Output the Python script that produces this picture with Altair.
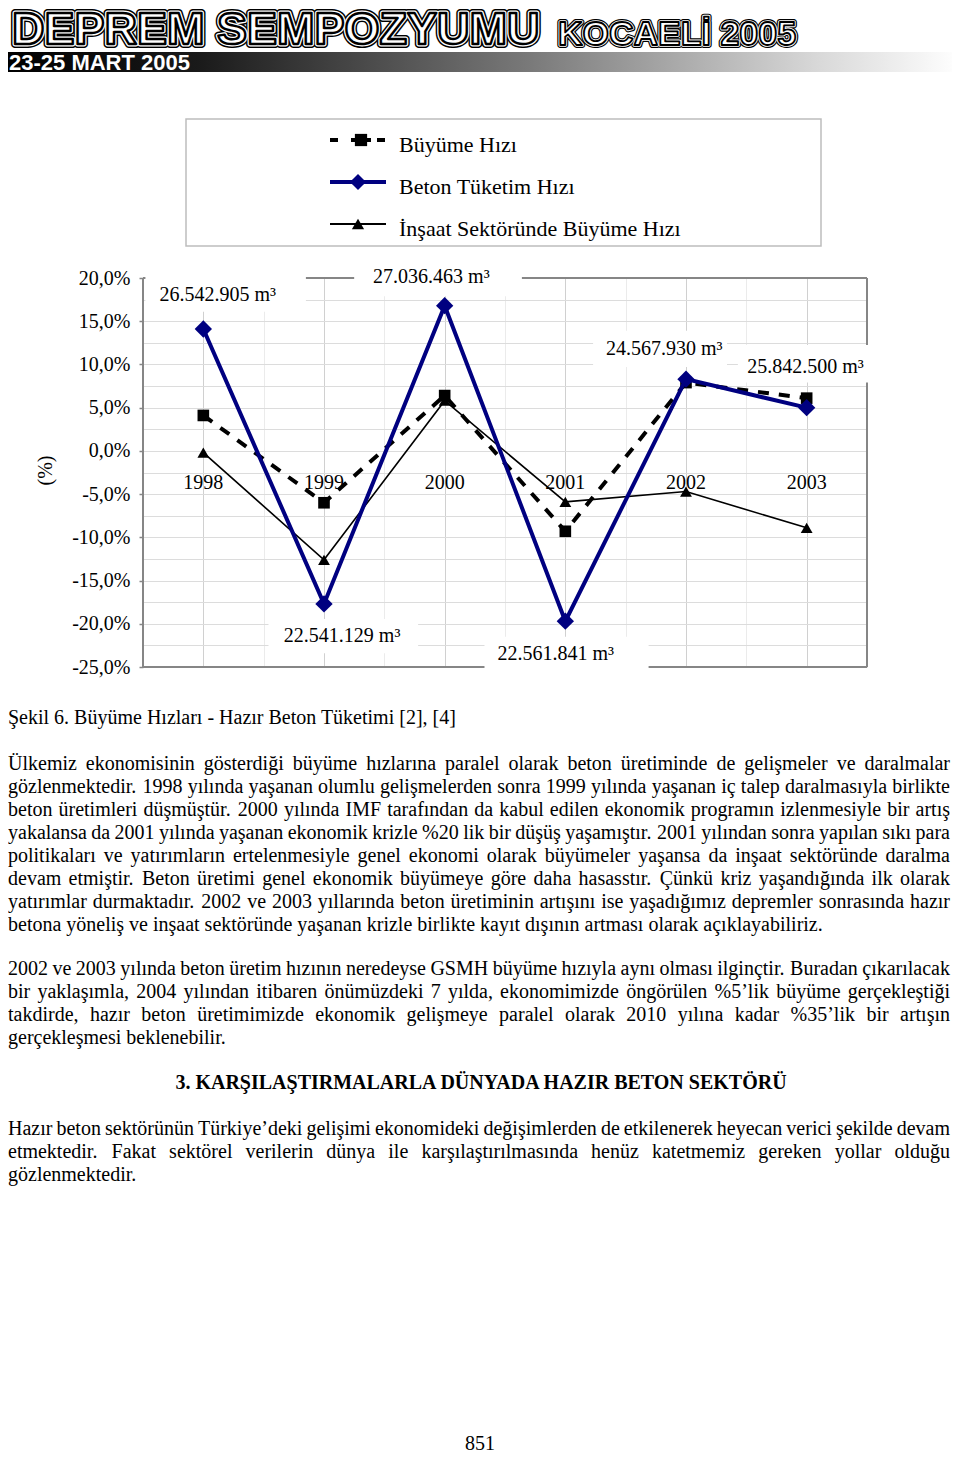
import glob
import struct

import altair as alt
import numpy as np
import pandas as pd

# ---------------- chart data ----------------
years = [1998, 1999, 2000, 2001, 2002, 2003]
buyume_hizi = [4.1, -6.0, 6.4, -9.3, 7.9, 6.1]            # dashed, squares
beton_tuketim = [14.1, -17.7, 16.8, -19.7, 8.3, 5.0]      # navy, diamonds
insaat_buyume = [-0.2, -12.6, 5.8, -5.9, -4.7, -8.9]      # thin black, triangles
series_labels = ["Büyüme Hızı", "Beton Tüketim Hızı", "İnşaat Sektöründe Büyüme Hızı"]
year_labels = [str(y) for y in years]

volume_labels = ["26.542.905 m³", "27.036.463 m³", "24.567.930 m³",
                 "25.842.500 m³", "22.541.129 m³", "22.561.841 m³"]
# anchor of each volume label in axis units (year, %)
volume_x = [1998.12, 1999.89, 2001.82, 2002.99, 1999.15, 2000.92]
volume_y = [18.0, 20.1, 11.8, 9.7, -21.4, -23.5]
# white boxes behind the volume labels (axis units)
box_x1 = [1997.52, 1999.25, 2001.23, 2002.43, 1998.54, 2000.33]
box_x2 = [1998.85, 2000.64, 2002.34, 2003.52, 1999.78, 2001.69]
box_y1 = [20.2, 22.1, 13.9, 12.25, -19.45, -21.5]
box_y2 = [16.1, 17.9, 9.7, 7.9, -23.4, -25.6]

# ---------------- page text ----------------
header_title = "DEPREM SEMPOZYUMU"
header_city = "KOCAELİ 2005"
header_dates = "23-25 MART 2005"
caption = "Şekil 6. Büyüme Hızları - Hazır Beton Tüketimi [2], [4]"
para1 = [
    "Ülkemiz ekonomisinin gösterdiği büyüme hızlarına paralel olarak beton üretiminde de gelişmeler ve daralmalar",
    "gözlenmektedir. 1998 yılında yaşanan olumlu gelişmelerden sonra 1999 yılında yaşanan iç talep daralmasıyla birlikte",
    "beton üretimleri düşmüştür. 2000 yılında IMF tarafından da kabul edilen ekonomik programın izlenmesiyle bir artış",
    "yakalansa da 2001 yılında yaşanan ekonomik krizle %20 lik bir düşüş yaşamıştır. 2001 yılından sonra yapılan sıkı para",
    "politikaları ve yatırımların ertelenmesiyle genel ekonomi olarak büyümeler yaşansa da inşaat sektöründe daralma",
    "devam etmiştir. Beton üretimi genel ekonomik büyümeye göre daha hasasstır. Çünkü kriz yaşandığında ilk olarak",
    "yatırımlar durmaktadır. 2002 ve 2003 yıllarında beton üretiminin artışını ise yaşadığımız depremler sonrasında hazır",
    "betona yöneliş ve inşaat sektöründe yaşanan krizle birlikte kayıt dışının artması olarak açıklayabiliriz.",
]
para2 = [
    "2002 ve 2003 yılında beton üretim hızının neredeyse GSMH büyüme hızıyla aynı olması ilginçtir. Buradan çıkarılacak",
    "bir yaklaşımla, 2004 yılından itibaren önümüzdeki 7 yılda, ekonomimizde öngörülen %5’lik büyüme gerçekleştiği",
    "takdirde, hazır beton üretimimizde ekonomik gelişmeye paralel olarak 2010 yılına kadar %35’lik bir artışın",
    "gerçekleşmesi beklenebilir.",
]
heading = "3. KARŞILAŞTIRMALARLA DÜNYADA HAZIR BETON SEKTÖRÜ"
para3 = [
    "Hazır beton sektörünün Türkiye’deki gelişimi ekonomideki değişimlerden de etkilenerek heyecan verici şekilde devam",
    "etmektedir. Fakat sektörel verilerin dünya ile karşılaştırılmasında henüz katetmemiz gereken yollar olduğu",
    "gözlenmektedir.",
]
page_number = "851"

# ---------------- layout ----------------
W, H = 724, 389          # plot area
OX, OY = 143, 278        # page position of the plot origin
SERIF = "Liberation Serif"
SANS = "Liberation Sans"
NAVY = "#000080"
BORDER = "#868686"


def px(x):
    return x - OX


def py(y):
    return y - OY


# ---- font metrics for justified paragraphs ----
def load_width_fn(fname):
    try:
        paths = glob.glob("/usr/share/fonts/**/" + fname, recursive=True)
        paths += glob.glob("/usr/local/share/fonts/**/" + fname, recursive=True)
        if not paths:
            return None
        d = open(paths[0], "rb").read()
        n = struct.unpack(">H", d[4:6])[0]
        t = {}
        for i in range(n):
            tag, _, off, _ = struct.unpack(">4sIII", d[12 + 16 * i:28 + 16 * i])
            t[tag] = off
        upm = struct.unpack(">H", d[t[b"head"] + 18:t[b"head"] + 20])[0]
        nh = struct.unpack(">H", d[t[b"hhea"] + 34:t[b"hhea"] + 36])[0]
        hm = t[b"hmtx"]
        adv = [struct.unpack(">H", d[hm + 4 * i:hm + 4 * i + 2])[0] for i in range(nh)]
        cm = t[b"cmap"]
        ns = struct.unpack(">H", d[cm + 2:cm + 4])[0]
        seg = None
        for i in range(ns):
            pid, eid, off = struct.unpack(">HHI", d[cm + 4 + 8 * i:cm + 12 + 8 * i])
            s = cm + off
            fmt = struct.unpack(">H", d[s:s + 2])[0]
            if fmt == 4 and pid == 3 and eid == 1:
                x2 = struct.unpack(">H", d[s + 6:s + 8])[0]
                k = x2 // 2
                ends = struct.unpack(">%dH" % k, d[s + 14:s + 14 + x2])
                starts = struct.unpack(">%dH" % k, d[s + 16 + x2:s + 16 + 2 * x2])
                deltas = struct.unpack(">%dh" % k, d[s + 16 + 2 * x2:s + 16 + 3 * x2])
                rpos = s + 16 + 3 * x2
                roffs = struct.unpack(">%dH" % k, d[rpos:rpos + x2])
                seg = (k, ends, starts, deltas, rpos, roffs)
                break
        if seg is None:
            return None
        k, ends, starts, deltas, rpos, roffs = seg

        def glyph(c):
            for j in range(k):
                if ends[j] >= c:
                    if starts[j] > c:
                        return 0
                    if roffs[j] == 0:
                        return (c + deltas[j]) & 0xFFFF
                    p = rpos + 2 * j + roffs[j] + 2 * (c - starts[j])
                    g = struct.unpack(">H", d[p:p + 2])[0]
                    return (g + deltas[j]) & 0xFFFF if g else 0
            return 0

        cache = {}

        def width(s, size):
            tot = 0
            for ch in s:
                if ch not in cache:
                    g = glyph(ord(ch))
                    cache[ch] = adv[min(g, nh - 1)]
                tot += cache[ch]
            return tot / upm * size

        return width
    except Exception:
        return None


width_fn = load_width_fn("LiberationSerif-Regular.ttf")

L_EDGE, R_EDGE, FS, LEAD = 8, 950, 20, 23


def layout_para(lines, base_y):
    rows = []
    for i, line in enumerate(lines):
        y = base_y + LEAD * i
        words = line.split(" ")
        if i == len(lines) - 1 or width_fn is None or len(words) < 2:
            rows.append(dict(px=px(L_EDGE), py=py(y), t=line))
            continue
        ws = [width_fn(w, FS) for w in words]
        gap = (R_EDGE - L_EDGE - sum(ws)) / (len(words) - 1)
        x = L_EDGE
        for w, wd in zip(words, ws):
            rows.append(dict(px=px(x), py=py(y), t=w))
            x += wd + gap
    return rows


body_rows = ([dict(px=px(L_EDGE), py=py(724), t=caption)]
             + layout_para(para1, 770) + layout_para(para2, 975) + layout_para(para3, 1135))
body_df = pd.DataFrame(body_rows)

# ---------------- scales / axes ----------------
xs = alt.Scale(domain=[1997.5, 2003.5], nice=False, zero=False)
ys = alt.Scale(domain=[-25, 20], nice=False, zero=False)

x_axis = alt.Axis(
    values=[float(v) for v in np.arange(1997.5, 2003.51, 0.5)],
    grid=True, labels=False, ticks=False, domain=False, title=None,
    gridColor={"condition": {"test": "datum.value % 1 === 0", "value": "#d0d0d0"},
               "value": "#ebebeb"},
    gridWidth=1,
)
y_axis = alt.Axis(
    values=[float(v) for v in np.arange(-25, 20.01, 2.5)],
    grid=True, gridColor="#dcdcdc", gridWidth=1, domain=False,
    tickSize=4, tickWidth=1.5,
    tickColor={"condition": {"test": "datum.value % 5 !== 0", "value": "transparent"},
               "value": BORDER},
    labelExpr="datum.value % 5 === 0 ? (datum.value < 0 ? '-' : '') + abs(datum.value) + ',0%' : ''",
    labelFont=SERIF, labelFontSize=20, labelColor="black", labelPadding=9,
    labelOverlap=False,
    title="(%)", titleFont=SERIF, titleFontSize=20, titleFontWeight="normal",
    titleColor="black", titleAngle=270, titleX=-98, titleY=192,
    titleAlign="center", titleBaseline="middle",
)


def X(field):
    return alt.X(field, type="quantitative", scale=xs, axis=None)


def Y(field):
    return alt.Y(field, type="quantitative", scale=ys, axis=None)


def PX(field="px"):
    return alt.X(field, type="quantitative", scale=None, axis=None)


def PY(field="py"):
    return alt.Y(field, type="quantitative", scale=None, axis=None)


one = pd.DataFrame({"a": [0]})
layers = []

# plot border (drawn first so label boxes can cover it)
layers.append(alt.Chart(one).mark_rule(color=BORDER, strokeWidth=2).encode(
    x=alt.value(0), x2=alt.value(W), y=alt.value(0)))
layers.append(alt.Chart(one).mark_rule(color=BORDER, strokeWidth=2).encode(
    x=alt.value(0), x2=alt.value(W), y=alt.value(H)))
layers.append(alt.Chart(one).mark_rule(color=BORDER, strokeWidth=2).encode(
    x=alt.value(W), y=alt.value(0), y2=alt.value(H)))

# white boxes behind volume labels
box_df = pd.DataFrame({"x1": box_x1, "x2": box_x2, "y1": box_y1, "y2": box_y2})
layers.append(alt.Chart(box_df).mark_rect(color="white", opacity=1).encode(
    x=X("x1"), x2="x2", y=Y("y1"), y2="y2"))

layers.append(alt.Chart(one).mark_rule(color=BORDER, strokeWidth=2).encode(
    x=alt.value(0), y=alt.value(0), y2=alt.value(H)))

# year labels inside the plot
yl_df = pd.DataFrame({"year": years, "lbl": year_labels})
layers.append(alt.Chart(yl_df).mark_text(font=SERIF, fontSize=20, color="black",
                                         baseline="middle").encode(
    x=X("year"), y=alt.Y(datum=-3.7, scale=ys, axis=None), text="lbl:N"))

# series
df = pd.DataFrame({"year": years, "b": buyume_hizi, "c": beton_tuketim, "i": insaat_buyume})

layers.append(alt.Chart(df).mark_line(color="black", strokeWidth=1.6).encode(
    x=alt.X("year", type="quantitative", scale=xs, axis=x_axis),
    y=alt.Y("i", type="quantitative", scale=ys, axis=y_axis)))
layers.append(alt.Chart(df).mark_point(shape="triangle-up", filled=True, size=140,
                                       color="black", opacity=1).encode(x=X("year"), y=Y("i")))

layers.append(alt.Chart(df).mark_line(color="black", strokeWidth=4, strokeDash=[11, 10]).encode(
    x=X("year"), y=Y("b")))
layers.append(alt.Chart(df).mark_point(shape="square", filled=True, size=135,
                                       color="black", opacity=1).encode(x=X("year"), y=Y("b")))

layers.append(alt.Chart(df).mark_line(color=NAVY, strokeWidth=4).encode(
    x=X("year"), y=Y("c")))
layers.append(alt.Chart(df).mark_point(shape="diamond", filled=True, size=300,
                                       color=NAVY, opacity=1).encode(x=X("year"), y=Y("c")))

# volume labels
vol_df = pd.DataFrame({"x": volume_x, "y": volume_y, "t": volume_labels})
layers.append(alt.Chart(vol_df).mark_text(font=SERIF, fontSize=20, color="black",
                                          baseline="middle").encode(
    x=X("x"), y=Y("y"), text="t:N"))

# ---- legend ----
layers.append(alt.Chart(one).mark_rect(fill="white", stroke="#bdbdbd", strokeWidth=1.5).encode(
    x=alt.value(px(186)), x2=alt.value(px(821)), y=alt.value(py(119)), y2=alt.value(py(246))))
leg_sym_y = [py(140), py(182), py(224)]
for a, b in [(330, 338), (351, 371), (377, 385)]:
    layers.append(alt.Chart(one).mark_rule(color="black", strokeWidth=4).encode(
        x=alt.value(px(a)), x2=alt.value(px(b)), y=alt.value(leg_sym_y[0])))
layers.append(alt.Chart(one).mark_point(shape="square", filled=True, size=150, color="black",
                                        opacity=1).encode(
    x=alt.value(px(361)), y=alt.value(leg_sym_y[0])))
layers.append(alt.Chart(one).mark_rule(color=NAVY, strokeWidth=4).encode(
    x=alt.value(px(330)), x2=alt.value(px(386)), y=alt.value(leg_sym_y[1])))
layers.append(alt.Chart(one).mark_point(shape="diamond", filled=True, size=260, color=NAVY,
                                        opacity=1).encode(
    x=alt.value(px(358)), y=alt.value(leg_sym_y[1])))
layers.append(alt.Chart(one).mark_rule(color="black", strokeWidth=2).encode(
    x=alt.value(px(330)), x2=alt.value(px(386)), y=alt.value(leg_sym_y[2])))
layers.append(alt.Chart(one).mark_point(shape="triangle-up", filled=True, size=150,
                                        color="black", opacity=1).encode(
    x=alt.value(px(358)), y=alt.value(leg_sym_y[2])))
leg_df = pd.DataFrame({"t": series_labels, "px": [px(399)] * 3,
                       "py": [py(152), py(194), py(236)]})
layers.append(alt.Chart(leg_df).mark_text(font=SERIF, fontSize=22, color="black",
                                          align="left", baseline="alphabetic").encode(
    x=PX(), y=PY(), text="t:N"))

# ---- page header ----
grad = alt.Gradient(gradient="linear", x1=0, x2=1, y1=0, y2=0, stops=[
    alt.GradientStop(color="#000000", offset=0),
    alt.GradientStop(color="#1a1a1a", offset=0.2),
    alt.GradientStop(color="#7a7a7a", offset=0.55),
    alt.GradientStop(color="#d8d8d8", offset=0.85),
    alt.GradientStop(color="#ffffff", offset=1),
])
layers.append(alt.Chart(one).mark_rect(color=grad).encode(
    x=alt.value(px(8)), x2=alt.value(px(960)), y=alt.value(py(52)), y2=alt.value(py(72))))
layers.append(alt.Chart(one).mark_text(font=SANS, fontWeight="bold", fontSize=22, fill="white",
                                       align="left", baseline="alphabetic").encode(
    x=alt.value(px(9)), y=alt.value(py(70)), text=alt.value(header_dates)))

for sw, col, fill in [(8, "black", "black"), (5, "white", "white"), (2.4, "black", "white")]:
    layers.append(alt.Chart(one).mark_text(font=SANS, fontWeight="bold", fontSize=45, fill=fill,
                                           stroke=col, strokeWidth=sw, strokeJoin="round",
                                           align="left", baseline="alphabetic").encode(
        x=alt.value(px(12)), y=alt.value(py(44)), text=alt.value(header_title)))
for sw, col, fill in [(6, "black", "black"), (3.6, "white", "white"), (1.8, "black", "white")]:
    layers.append(alt.Chart(one).mark_text(font=SANS, fontWeight="bold", fontSize=34, fill=fill,
                                           stroke=col, strokeWidth=sw, strokeJoin="round",
                                           align="left", baseline="alphabetic").encode(
        x=alt.value(px(558)), y=alt.value(py(45)), text=alt.value(header_city)))

# ---- body text ----
layers.append(alt.Chart(body_df).mark_text(font=SERIF, fontSize=FS, color="black",
                                           align="left", baseline="alphabetic").encode(
    x=PX(), y=PY(), text="t:N"))
layers.append(alt.Chart(one).mark_text(font=SERIF, fontSize=20, fontWeight="bold",
                                       color="black", align="center",
                                       baseline="alphabetic").encode(
    x=alt.value(px(481)), y=alt.value(py(1089)), text=alt.value(heading)))
layers.append(alt.Chart(one).mark_text(font=SERIF, fontSize=20, color="black",
                                       align="center", baseline="alphabetic").encode(
    x=alt.value(px(480)), y=alt.value(py(1450)), text=alt.value(page_number)))

chart = alt.layer(*layers).resolve_scale(x="independent", y="independent").properties(
    width=W, height=H,
    padding={"left": 135, "top": 270, "right": 85, "bottom": 784},
    autosize=alt.AutoSizeParams(type="none"),
).configure_view(stroke="transparent")

chart.save("out.html", embed_options={"renderer": "svg", "actions": False})
